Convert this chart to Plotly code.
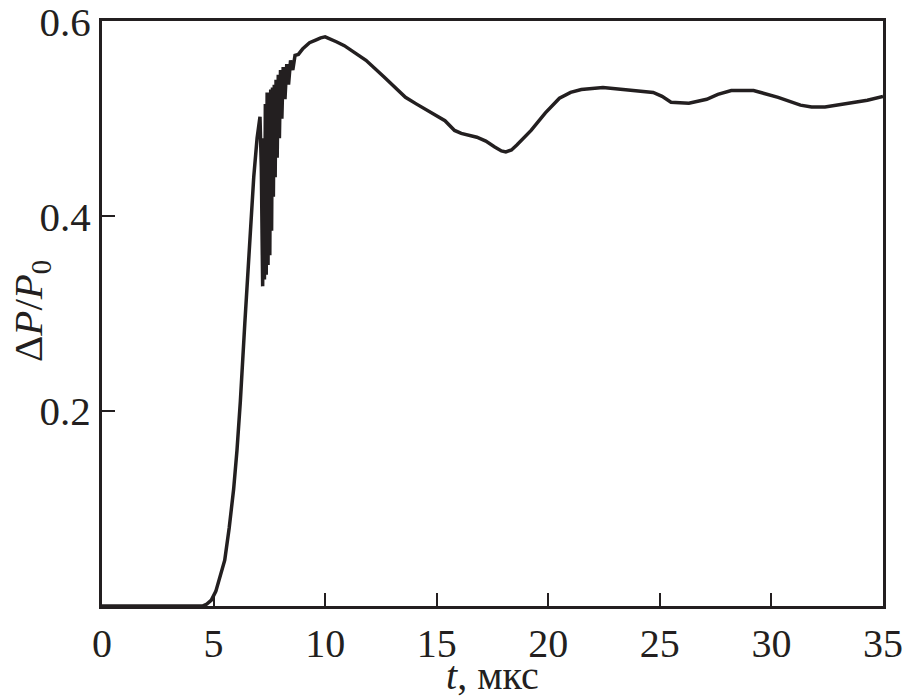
import plotly.graph_objects as go

# time, us
t = [0, 4.5, 4.7, 4.9, 5.1, 5.3, 5.5, 5.7, 5.9, 6.05, 6.2, 6.4, 6.6, 6.8, 6.95, 7.03,
     7.08, 7.14, 7.20, 7.25, 7.28, 7.32, 7.36, 7.40, 7.44, 7.48, 7.52, 7.56, 7.60,
     7.64, 7.68, 7.72, 7.76, 7.80, 7.85, 7.90, 7.95, 8.00, 8.06, 8.12, 8.20, 8.28,
     8.36, 8.45, 8.55, 8.65, 8.8, 9.0, 9.3, 9.6, 9.8, 10.0, 10.22, 10.5, 10.86,
     11.3, 11.83, 12.63, 13.6, 14.1, 14.72, 15.37, 15.8, 16.1, 16.8, 17.2, 17.6,
     17.9, 18.1, 18.35, 18.59, 19.23, 19.87, 20.5, 21.0, 21.48, 22.45, 23.3, 23.9,
     24.7, 25.1, 25.5, 26.3, 27.1, 27.6, 28.2, 29.2, 30.3, 31.3, 31.8, 32.4,
     33.55, 34.3, 35]
# pressure ratio dP/P0
dp = [0, 0, 0.002, 0.006, 0.015, 0.03, 0.047, 0.08, 0.12, 0.16, 0.21, 0.29, 0.365,
      0.44, 0.48, 0.496, 0.502, 0.45, 0.328, 0.48, 0.335, 0.515, 0.34, 0.527, 0.35,
      0.527, 0.36, 0.53, 0.385, 0.532, 0.42, 0.535, 0.44, 0.54, 0.46, 0.545, 0.48,
      0.55, 0.50, 0.553, 0.52, 0.556, 0.535, 0.56, 0.55, 0.565, 0.566, 0.572,
      0.578, 0.581, 0.583, 0.584, 0.582, 0.579, 0.575, 0.568, 0.56, 0.543, 0.522,
      0.515, 0.507, 0.498, 0.488, 0.485, 0.481, 0.477, 0.471, 0.467, 0.466, 0.468,
      0.473, 0.488, 0.506, 0.521, 0.527, 0.530, 0.532, 0.530, 0.528, 0.527, 0.523,
      0.517, 0.516, 0.52, 0.525, 0.529, 0.529, 0.522, 0.514, 0.512, 0.512, 0.516,
      0.519, 0.523]

x_ticks = [0, 5, 10, 15, 20, 25, 30, 35]
y_ticks = [0.2, 0.4, 0.6]
y_labels = ["0.2", "0.4", "0.6"]

ink = "#231f20"
serif = "Liberation Serif"

fig = go.Figure()
fig.add_trace(go.Scatter(x=t, y=dp, mode="lines",
                         line=dict(color=ink, width=3.5), showlegend=False))

fig.update_layout(
    width=908, height=697,
    margin=dict(l=102, r=25, t=21, b=91),
    plot_bgcolor="white", paper_bgcolor="white",
    font=dict(family=serif, size=40, color=ink),
)
fig.update_xaxes(
    range=[0, 35], tickvals=x_ticks, ticks="inside", ticklen=13, tickwidth=2,
    tickcolor=ink, showline=True, linewidth=3, linecolor=ink, mirror=True,
    showgrid=False, zeroline=False, tickfont=dict(size=40), automargin=False,
)
fig.update_yaxes(
    range=[0, 0.6003], tickvals=y_ticks, ticktext=y_labels, ticks="inside",
    ticklen=13, tickwidth=2, tickcolor=ink, showline=True, linewidth=3,
    linecolor=ink, mirror=True, showgrid=False, zeroline=False,
    tickfont=dict(size=41), automargin=False, ticklabeloverflow="allow",
)

# axis titles placed as annotations (plot area spans 102..883 x 21..606)
fig.add_annotation(text="<i>t</i>, мкс", xref="paper", yref="paper",
                   x=(493 - 102) / 781, y=-(675 - 606) / 585,
                   xanchor="center", yanchor="middle", showarrow=False,
                   font=dict(family=serif, size=40, color=ink))
fig.add_annotation(text="Δ<i>P</i>/<i>P</i><sub>0</sub>", xref="paper", yref="paper",
                   x=(31 - 102) / 781, y=(606 - 311) / 585, textangle=-90,
                   xanchor="center", yanchor="middle", showarrow=False,
                   font=dict(family=serif, size=41, color=ink))

# drop the default 8px body margin so the figure fills the window exactly
fig.write_html("out.html", config={"displayModeBar": False},
               post_script="document.body.style.margin='0';")
